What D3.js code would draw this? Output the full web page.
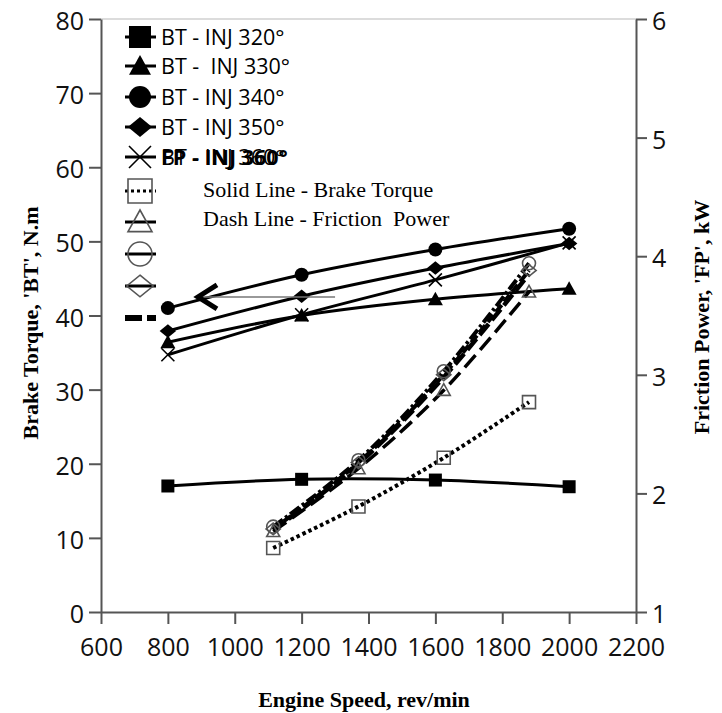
<!DOCTYPE html>
<html>
<head>
<meta charset="utf-8">
<script src="https://cdn.jsdelivr.net/npm/d3@7"></script>
<style>
  body { margin: 0; background: #fff; }
  text { white-space: pre; }
</style>
</head>
<body>
<div id="chart"></div>
<script>
// brake torque (left axis), engine speed in rev/min
const speedBT = [800, 1200, 1600, 2000];
const bt320 = [17.0, 17.9, 17.8, 16.9];
const bt330 = [36.4, 40.0, 42.2, 43.6];
const bt340 = [41.0, 45.5, 48.9, 51.7];
const bt350 = [37.9, 42.6, 46.4, 49.7];
const bt360 = [34.7, 40.1, 44.8, 49.8];

// friction power (right axis), kW
const speedFP = [1115, 1370, 1625, 1880];
const fp320 = [1.54, 1.89, 2.30, 2.77];
const fp330 = [1.68, 2.21, 2.87, 3.70];
const fp340 = [1.72, 2.28, 3.03, 3.94];
const fp350 = [1.70, 2.26, 3.00, 3.88];
const fp360 = [1.69, 2.25, 2.98, 3.85];

const xTicks = [600, 800, 1000, 1200, 1400, 1600, 1800, 2000, 2200];
const leftTicks = [0, 10, 20, 30, 40, 50, 60, 70, 80];
const rightTicks = [1, 2, 3, 4, 5, 6];

const legendLabels = ["BT - INJ 320°", "BT -  INJ 330°", "BT - INJ 340°", "BT - INJ 350°", "BT - INJ 360°"];

const width = 722, height = 713;
const svg = d3.select("#chart").append("svg")
    .attr("width", width)
    .attr("height", height);

let x = d3.scaleLinear().domain([600, 2200]).range([101, 636]);
let yL = d3.scaleLinear().domain([0, 80]).range([612, 19]);
let yR = d3.scaleLinear().domain([1, 6]).range([612, 19]);

const axisColor = "#555";
const tickFont = "'Open Sans', sans-serif";

// top border
svg.append("line")
    .attr("x1", x(600)).attr("x2", x(2200))
    .attr("y1", yL(80)).attr("y2", yL(80))
    .attr("stroke", "#d0d0d0").attr("stroke-width", 1.5);

function styleAxis(g) {
    g.select(".domain").attr("stroke", axisColor).attr("stroke-width", 2);
    g.selectAll(".tick line").attr("stroke", axisColor).attr("stroke-width", 2);
    g.selectAll(".tick text")
        .attr("fill", "#111")
        .style("font-family", tickFont)
        .style("font-size", "25px");
}

svg.append("g")
    .attr("transform", "translate(0," + yL(0) + ")")
    .call(d3.axisBottom(x).tickValues(xTicks).tickFormat(d3.format("d"))
        .tickSize(12).tickSizeOuter(0).tickPadding(14))
    .call(styleAxis);

svg.append("g")
    .attr("transform", "translate(" + x(600) + ",0)")
    .call(d3.axisLeft(yL).tickValues(leftTicks).tickFormat(d3.format("d"))
        .tickSize(12).tickSizeOuter(0).tickPadding(5))
    .call(styleAxis)
    .selectAll(".tick text").attr("dy", "0.42em");

svg.append("g")
    .attr("transform", "translate(" + x(2200) + ",0)")
    .call(d3.axisRight(yR).tickValues(rightTicks).tickFormat(d3.format("d"))
        .tickSize(11).tickSizeOuter(0).tickPadding(5))
    .call(styleAxis)
    .selectAll(".tick text").attr("dy", "0.42em");

// axis titles
const titleFont = "'Liberation Serif', 'Times New Roman', serif";
svg.append("text")
    .attr("transform", "translate(38,323)rotate(-90)")
    .attr("text-anchor", "middle")
    .style("font-family", titleFont).style("font-weight", "bold").style("font-size", "22px")
    .text("Brake Torque, 'BT', N.m");
svg.append("text")
    .attr("transform", "translate(709,317)rotate(-90)")
    .attr("text-anchor", "middle")
    .style("font-family", titleFont).style("font-weight", "bold").style("font-size", "22px")
    .text("Friction Power, 'FP', kW");
svg.append("text")
    .attr("x", 364).attr("y", 707)
    .attr("text-anchor", "middle")
    .style("font-family", titleFont).style("font-weight", "bold").style("font-size", "22px")
    .text("Engine Speed, rev/min");

// marker shapes
function markerPath(type, s) {
    const h = s / 2;
    if (type === "square") return `M${-h},${-h}h${s}v${s}h${-s}Z`;
    if (type === "triangle") return `M0,${-h}L${h},${h * 0.8}L${-h},${h * 0.8}Z`;
    if (type === "circle") return `M${h},0A${h},${h} 0 1,1 ${-h},0A${h},${h} 0 1,1 ${h},0Z`;
    if (type === "diamond") return `M0,${-h * 0.9}L${h * 1.1},0L0,${h * 0.9}L${-h * 1.1},0Z`;
    if (type === "x") return `M${-h},${-h}L${h},${h}M${h},${-h}L${-h},${h}`;
    return "";
}

function drawMarker(g, type, cx, cy, s, open) {
    const p = g.append("path")
        .attr("d", markerPath(type, s))
        .attr("transform", "translate(" + cx + "," + cy + ")");
    if (type === "x") {
        p.attr("fill", "none").attr("stroke", "#000").attr("stroke-width", 1.6);
    } else if (open) {
        p.attr("fill", "none").attr("stroke", "#555").attr("stroke-width", 1.6);
    } else {
        p.attr("fill", "#000");
    }
}

const curve = d3.curveCatmullRom.alpha(0.5);

// brake torque lines
const btSeries = [
    { vals: bt320, marker: "square", size: 13 },
    { vals: bt330, marker: "triangle", size: 15 },
    { vals: bt340, marker: "circle", size: 14 },
    { vals: bt350, marker: "diamond", size: 15 },
    { vals: bt360, marker: "x", size: 13 }
];
const lineBT = d3.line().x(d => x(d[0])).y(d => yL(d[1])).curve(curve);
btSeries.forEach(s => {
    const pts = speedBT.map((v, i) => [v, s.vals[i]]);
    svg.append("path")
        .attr("d", lineBT(pts))
        .attr("fill", "none").attr("stroke", "#000").attr("stroke-width", 3);
});
btSeries.forEach(s => {
    speedBT.forEach((v, i) => drawMarker(svg, s.marker, x(v), yL(s.vals[i]), s.size, false));
});

// friction power lines
const fpSeries = [
    { vals: fp330, marker: "triangle", size: 13, dash: "16,7", w: 3.5 },
    { vals: fp360, marker: null, size: 0, dash: "14,5", w: 4.5 },
    { vals: fp350, marker: "diamond", size: 13, dash: "9,4", w: 4 },
    { vals: fp340, marker: "circle", size: 13, dash: "12,3,3,3", w: 4 },
    { vals: fp320, marker: "square", size: 13, dash: "3.5,3", w: 4 }
];
const lineFP = d3.line().x(d => x(d[0])).y(d => yR(d[1])).curve(curve);
fpSeries.forEach(s => {
    const pts = speedFP.map((v, i) => [v, s.vals[i]]);
    svg.append("path")
        .attr("d", lineFP(pts))
        .attr("fill", "none").attr("stroke", "#000")
        .attr("stroke-width", s.w).attr("stroke-dasharray", s.dash);
});
fpSeries.forEach(s => {
    if (!s.marker) return;
    speedFP.forEach((v, i) => drawMarker(svg, s.marker, x(v), yR(s.vals[i]), s.size, true));
});

// arrow pointing to the torque curves
svg.append("line")
    .attr("x1", x(890)).attr("x2", x(1300))
    .attr("y1", yL(42.5)).attr("y2", yL(42.5))
    .attr("stroke", "#777").attr("stroke-width", 1.5);
svg.append("path")
    .attr("d", `M${x(890) + 19},${yL(42.5) - 12}L${x(890)},${yL(42.5)}L${x(890) + 19},${yL(42.5) + 12}`)
    .attr("fill", "none").attr("stroke", "#000").attr("stroke-width", 5);

// legend
const rows = [37, 66, 97, 127, 157, 191, 222, 254, 286, 318];
const legend = svg.append("g");
const legendItems = [
    { marker: "square", open: false, dash: null },
    { marker: "triangle", open: false, dash: null },
    { marker: "circle", open: false, dash: null },
    { marker: "diamond", open: false, dash: null },
    { marker: "x", open: false, dash: null },
    { marker: "square", open: true, dash: "3,3" },
    { marker: "triangle", open: true, dash: null },
    { marker: "circle", open: true, dash: null },
    { marker: "diamond", open: true, dash: null },
    { marker: null, open: true, dash: "17,5" }
];
legendItems.forEach((it, i) => {
    const y = rows[i];
    legend.append("line")
        .attr("x1", 125).attr("x2", 156)
        .attr("y1", y).attr("y2", y)
        .attr("stroke", "#000")
        .attr("stroke-width", it.marker ? 3 : 6)
        .attr("stroke-dasharray", it.dash);
    if (it.marker) {
        const sz = it.open ? 24 : 22;
        drawMarker(legend, it.marker, 140, y, sz, it.open);
    }
});
legendLabels.forEach((t, i) => {
    legend.append("text")
        .attr("x", 161).attr("y", rows[i] + 8)
        .style("font-family", tickFont).style("font-size", "21.5px")
        .attr("fill", "#000")
        .text(t);
});
// second label drawn on top of the 360° entry, as in the source figure
legend.append("text")
    .attr("x", 161).attr("y", rows[4] + 8)
    .style("font-family", tickFont).style("font-size", "21.5px").style("font-weight", "bold")
    .attr("fill", "#000")
    .text("FP - INJ 360°");

legend.append("text")
    .attr("x", 203).attr("y", 197)
    .style("font-family", titleFont).style("font-size", "22px")
    .text("Solid Line - Brake Torque");
legend.append("text")
    .attr("x", 203).attr("y", 226)
    .style("font-family", titleFont).style("font-size", "22px")
    .text("Dash Line - Friction  Power");
</script>
</body>
</html>
